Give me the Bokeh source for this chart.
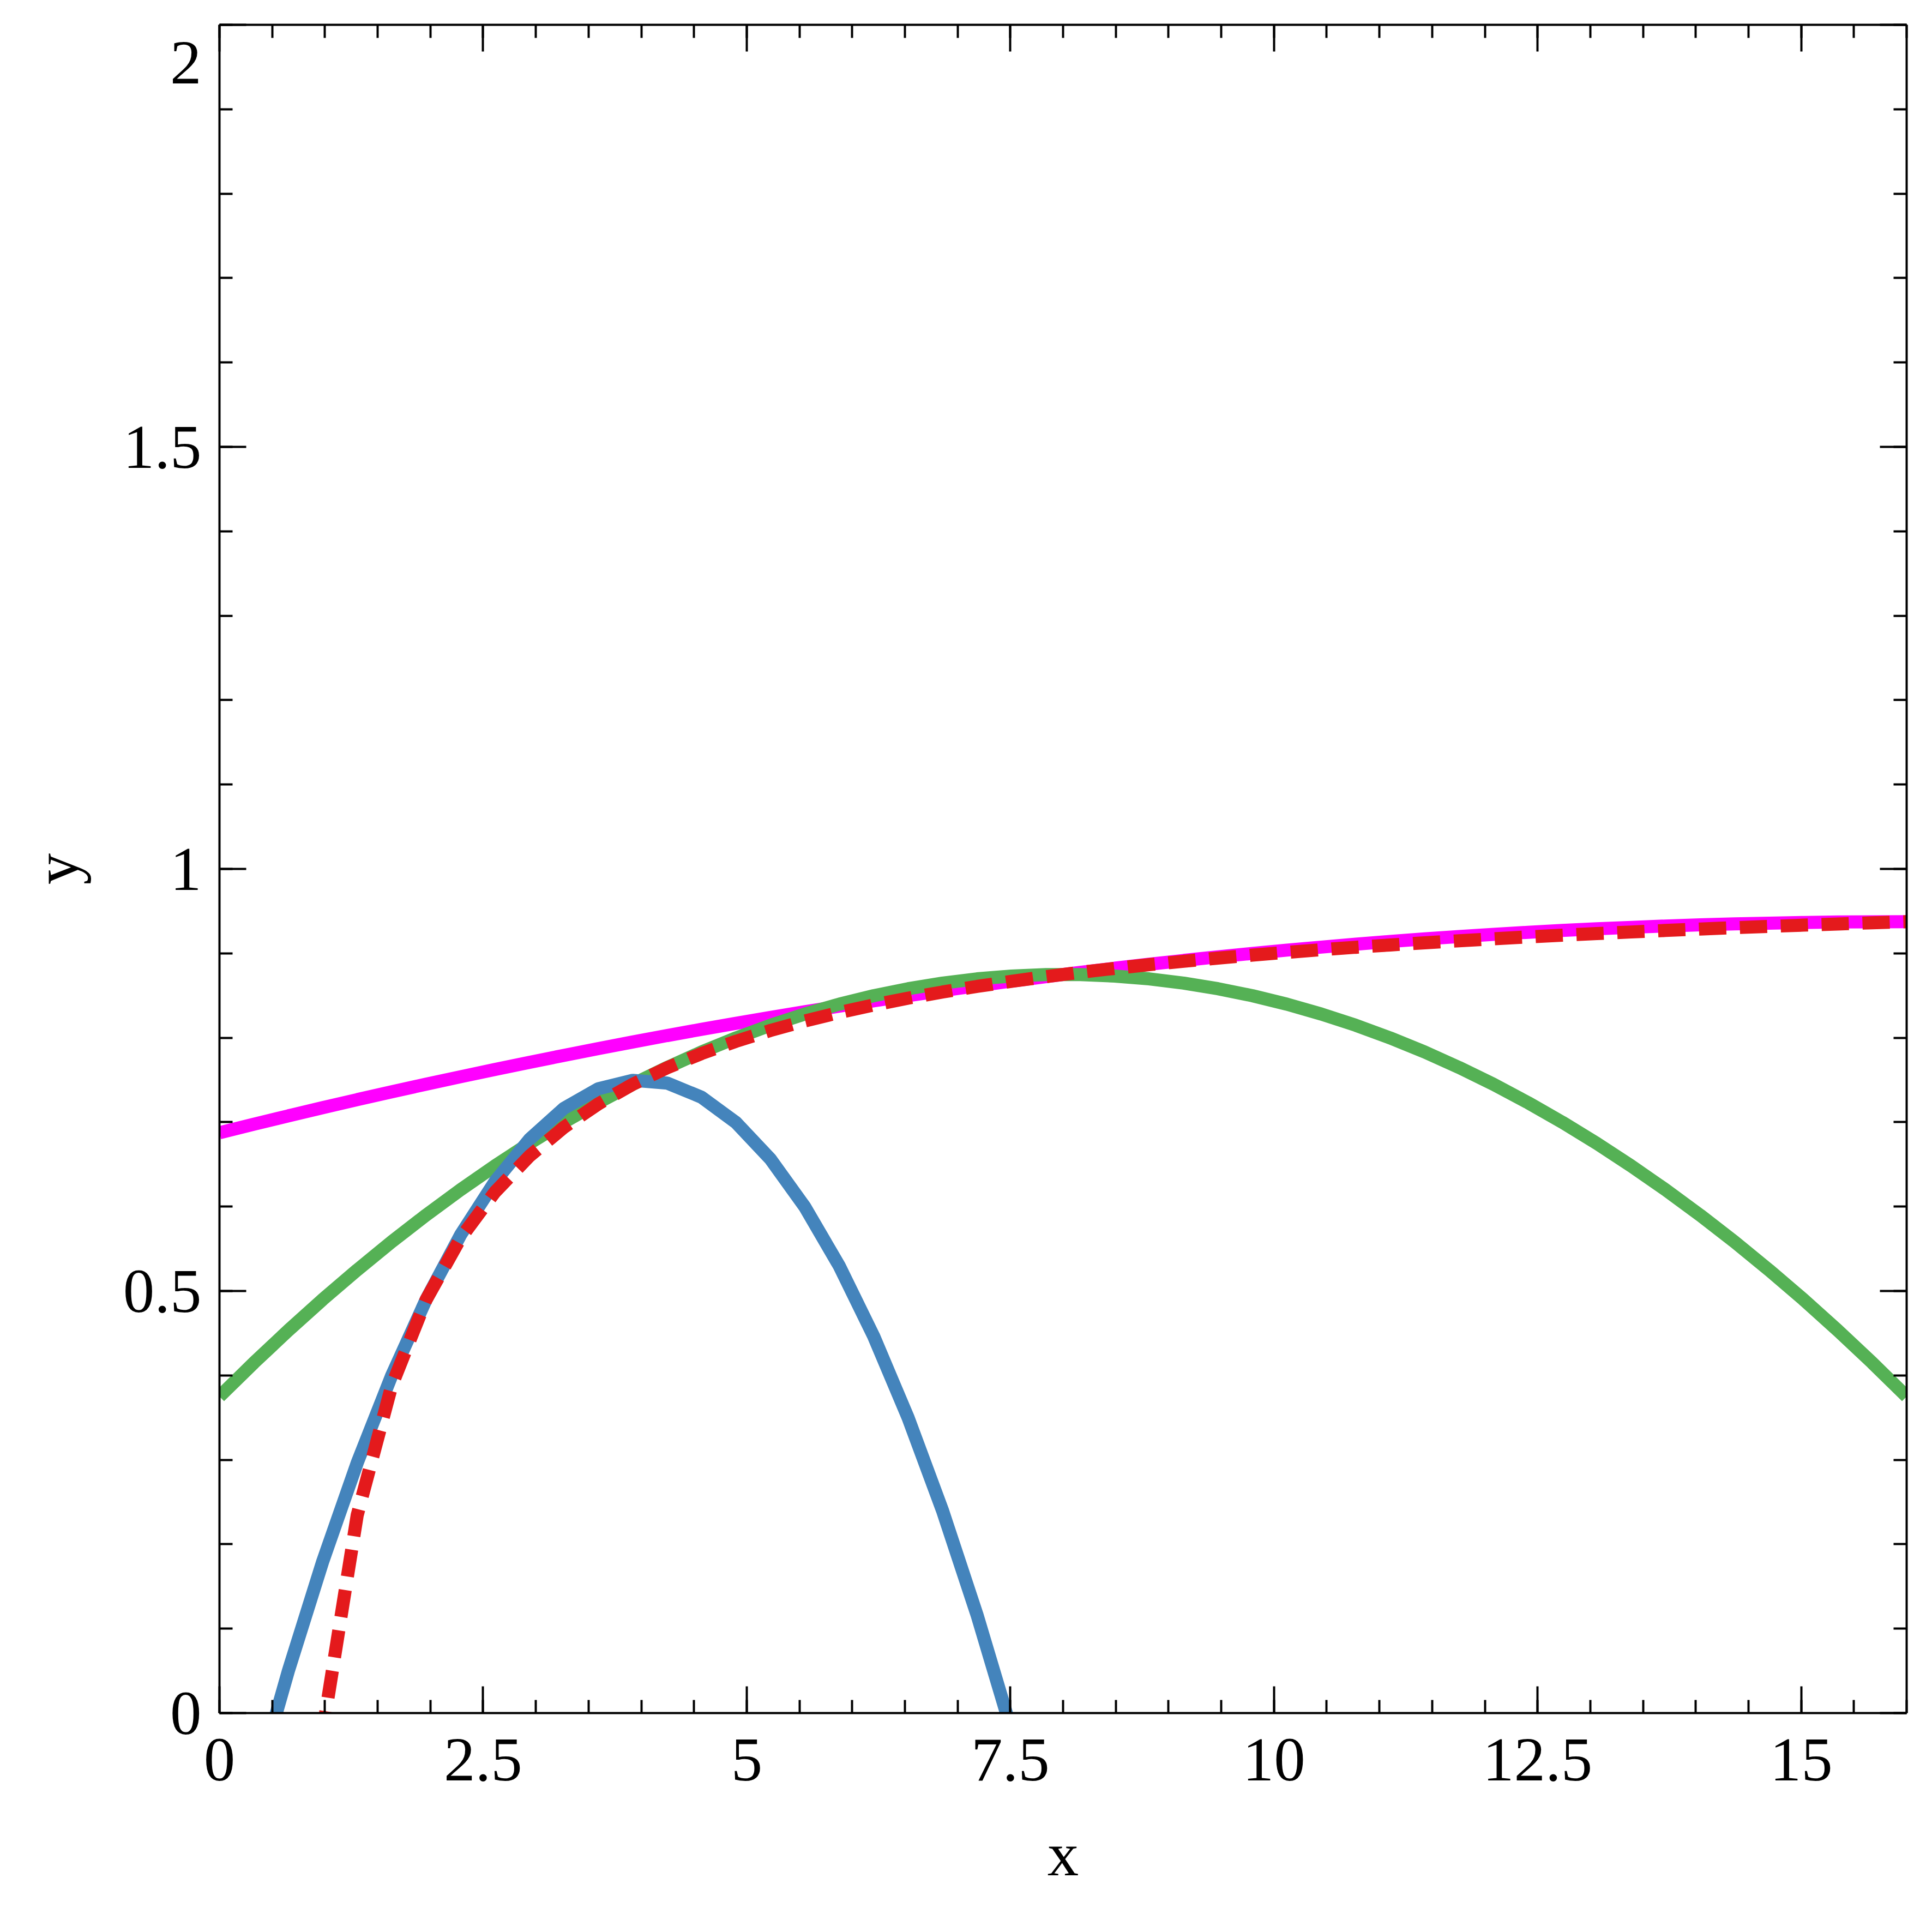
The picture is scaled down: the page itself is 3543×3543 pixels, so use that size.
from bokeh.plotting import figure
from bokeh.models import (LinearAxis, SingleIntervalTicker, NumeralTickFormatter,
                          CustomJSTickFormatter, Range1d)
from bokeh.embed import file_html
from bokeh.resources import INLINE

# sample positions along x (50 evenly spaced samples from 0 to 16)
x_vals = [0.0, 0.3265, 0.6531, 0.9796, 1.3061, 1.6327, 1.9592, 2.2857, 2.6122, 2.9388,
          3.2653, 3.5918, 3.9184, 4.2449, 4.5714, 4.8980, 5.2245, 5.5510, 5.8776, 6.2041,
          6.5306, 6.8571, 7.1837, 7.5102, 7.8367, 8.1633, 8.4898, 8.8163, 9.1429, 9.4694,
          9.7959, 10.1224, 10.4490, 10.7755, 11.1020, 11.4286, 11.7551, 12.0816, 12.4082, 12.7347,
          13.0612, 13.3878, 13.7143, 14.0408, 14.3673, 14.6939, 15.0204, 15.3469, 15.6735, 16.0]

# red dashed curve (starts at the second sample)
red_y = [-2.0625, -0.5313, -0.0208, 0.2344, 0.3875, 0.4896, 0.5625, 0.6172, 0.6597,
         0.6938, 0.7216, 0.7448, 0.7644, 0.7813, 0.7958, 0.8086, 0.8199, 0.8299, 0.8388,
         0.8469, 0.8542, 0.8608, 0.8668, 0.8724, 0.8775, 0.8822, 0.8866, 0.8906, 0.8944,
         0.8979, 0.9012, 0.9043, 0.9072, 0.9099, 0.9125, 0.9149, 0.9172, 0.9194, 0.9215,
         0.9234, 0.9253, 0.9271, 0.9288, 0.9304, 0.9319, 0.9334, 0.9348, 0.9362, 0.9375]

# blue curve (first 24 samples)
blue_y = [-0.2500, -0.0934, 0.0499, 0.1798, 0.2964, 0.3997, 0.4897, 0.5663, 0.6296, 0.6796,
          0.7163, 0.7396, 0.7496, 0.7463, 0.7296, 0.6996, 0.6563, 0.5996, 0.5297, 0.4464,
          0.3498, 0.2398, 0.1165, -0.0201]

# green curve
green_y = [0.3750, 0.4150, 0.4533, 0.4900, 0.5249, 0.5583, 0.5899, 0.6199, 0.6482, 0.6749,
           0.6999, 0.7232, 0.7449, 0.7648, 0.7832, 0.7998, 0.8148, 0.8281, 0.8398, 0.8498,
           0.8581, 0.8648, 0.8698, 0.8731, 0.8748, 0.8748, 0.8731, 0.8698, 0.8648, 0.8581,
           0.8498, 0.8398, 0.8281, 0.8148, 0.7998, 0.7832, 0.7648, 0.7449, 0.7232, 0.6999,
           0.6749, 0.6482, 0.6199, 0.5899, 0.5583, 0.5249, 0.4900, 0.4533, 0.4150, 0.3750]

# magenta curve
magenta_y = [0.6875, 0.6976, 0.7075, 0.7172, 0.7267, 0.7359, 0.7450, 0.7538, 0.7625, 0.7709,
             0.7791, 0.7872, 0.7950, 0.8026, 0.8100, 0.8171, 0.8241, 0.8309, 0.8374, 0.8438,
             0.8499, 0.8559, 0.8616, 0.8671, 0.8724, 0.8775, 0.8824, 0.8871, 0.8916, 0.8959,
             0.8999, 0.9038, 0.9074, 0.9108, 0.9141, 0.9171, 0.9199, 0.9225, 0.9249, 0.9271,
             0.9291, 0.9308, 0.9324, 0.9338, 0.9349, 0.9358, 0.9366, 0.9371, 0.9374, 0.9375]

x_range = (0, 16)
y_range = (0, 2)
top_y_tick_label = "2"

FONT = "Liberation Serif"
W, H = 3535, 3535
BL, BR, BT, BB = 402, 39, 45, 394

p = figure(width=W, height=H, output_backend="svg", toolbar_location=None,
           x_range=Range1d(*x_range), y_range=Range1d(*y_range),
           min_border_left=BL, min_border_right=BR, min_border_top=BT, min_border_bottom=BB)
p.background_fill_color = "white"
p.border_fill_color = "white"
p.outline_line_color = None
p.grid.visible = False

fmt = NumeralTickFormatter(format="0.[0]")

def style_axis(ax, ticker, show_labels):
    ax.ticker = ticker
    ax.axis_line_width = 4
    ax.axis_line_color = "black"
    ax.major_tick_in = 49
    ax.major_tick_out = 0
    ax.minor_tick_in = 24
    ax.minor_tick_out = 0
    ax.major_tick_line_width = 4
    ax.minor_tick_line_width = 4
    ax.major_tick_line_color = "black"
    ax.minor_tick_line_color = "black"
    if show_labels:
        ax.formatter = fmt
        ax.major_label_text_font = FONT
        ax.major_label_text_font_size = "115px"
        ax.major_label_text_color = "black"
        ax.axis_label_text_font = FONT
        ax.axis_label_text_font_size = "115px"
        ax.axis_label_text_font_style = "normal"
        ax.axis_label_text_color = "black"
    else:
        ax.formatter = CustomJSTickFormatter(code="return ''")
        ax.major_label_text_font_size = "1px"
        ax.major_label_standoff = 0

xt = lambda: SingleIntervalTicker(interval=2.5, num_minor_ticks=5)
yt = lambda: SingleIntervalTicker(interval=0.5, num_minor_ticks=5)

style_axis(p.xaxis[0], xt(), True)
style_axis(p.yaxis[0], yt(), True)
p.xaxis[0].axis_label = "x"
p.yaxis[0].axis_label = "y"
p.xaxis[0].major_label_standoff = 48
p.xaxis[0].axis_label_standoff = 69
p.yaxis[0].major_label_standoff = 33
p.yaxis[0].axis_label_standoff = 55
# the top y label sits a little below its tick (as in the reference), kept on the page
p.yaxis[0].major_label_overrides = {2: "\n" + top_y_tick_label}
p.yaxis[0].major_label_text_line_height = 0.4

top = LinearAxis()
style_axis(top, xt(), False)
p.add_layout(top, "above")
right = LinearAxis()
style_axis(right, yt(), False)
p.add_layout(right, "right")

p.line(x_vals, magenta_y, line_color="#FF00FF", line_width=24)
p.line(x_vals, green_y, line_color="#55B155", line_width=24)
p.line(x_vals[:len(blue_y)], blue_y, line_color="#4484BC", line_width=24)
p.line(x_vals[1:], red_y, line_color="#E41A1C", line_width=24, line_dash="50 25")

open("out.html", "w").write(file_html(p, INLINE))
